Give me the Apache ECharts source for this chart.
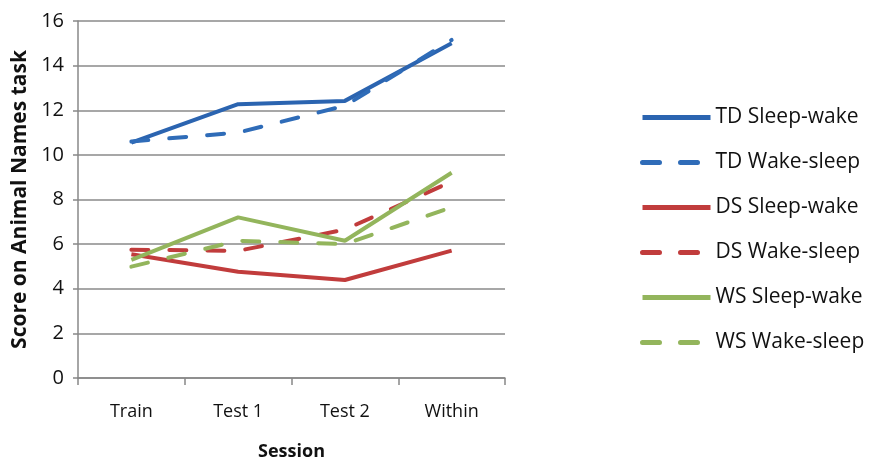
<!DOCTYPE html>
<html><head><meta charset="utf-8">
<script src="https://cdn.jsdelivr.net/npm/echarts@6/dist/echarts.min.js"></script>
<style>html,body{margin:0;padding:0;background:#fff}#c{width:874px;height:462px}</style>
</head><body><div id="c"></div>
<script>
const categories = ['Train', 'Test 1', 'Test 2', 'Within'];
const tdSleepWake = [10.55, 12.27, 12.42, 15.0];
const tdWakeSleep = [10.6, 11.0, 12.2, 15.15];
const dsSleepWake = [5.55, 4.76, 4.39, 5.71];
const dsWakeSleep = [5.75, 5.7, 6.65, 8.8];
const wsSleepWake = [5.29, 7.2, 6.15, 9.2];
const wsWakeSleep = [4.99, 6.15, 6.0, 7.65];
const seriesNames = ['TD Sleep-wake','TD Wake-sleep','DS Sleep-wake','DS Wake-sleep','WS Sleep-wake','WS Wake-sleep'];
const seriesData = [tdSleepWake, tdWakeSleep, dsSleepWake, dsWakeSleep, wsSleepWake, wsWakeSleep];
const colors = ['#2b64b0','#2f6cb8','#c13c3c','#c13c3c','#93b55c','#93b55c'];
const dashed = [false,true,false,true,false,true];
const FONT = 'Open Sans';
const chart = echarts.init(document.getElementById('c'), null, {renderer:'canvas'});
chart.setOption({
  animation:false,
  textStyle:{fontFamily:FONT},
  grid:{left:78, right:369, top:21, bottom:84, containLabel:false, outerBoundsMode:'none'},
  legend:{
    orient:'vertical', left:635, top:102, itemWidth:68, itemHeight:14, itemGap:24,
    itemStyle:{opacity:0},
    lineStyle:{width:5},
    textStyle:{fontSize:21, color:'#111', fontFamily:FONT},
    data: seriesNames.map(n=>({name:n}))
  },
  xAxis:{
    type:'category', data:categories, boundaryGap:true,
    name:'Session', nameLocation:'middle', nameGap:65,
    nameTextStyle:{fontSize:18, fontWeight:'bold', color:'#111'},
    axisLine:{lineStyle:{color:'#888', width:1.5}},
    axisTick:{show:true, length:7, lineStyle:{color:'#888', width:1.5}},
    axisLabel:{fontSize:18, color:'#111', margin:25}
  },
  yAxis:{
    type:'value', min:0, max:16, interval:2,
    name:'Score on Animal Names task', nameLocation:'middle', nameGap:47,
    nameTextStyle:{fontSize:21, fontWeight:'bold', color:'#111'},
    axisLine:{show:true, lineStyle:{color:'#888', width:1.5}},
    axisTick:{show:true, length:5, lineStyle:{color:'#888', width:1.5}},
    axisLabel:{fontSize:20, color:'#111', margin:14},
    splitLine:{lineStyle:{color:'#8a8a8a', width:1.5}}
  },
  series: seriesNames.map((n,i)=>({
    name:n, type:'line', data:seriesData[i], symbol:'none', smooth:false,
    lineStyle:{color:colors[i], width:4, type: dashed[i] ? [17,21] : 'solid', cap: dashed[i] ? 'round':'butt'},
    itemStyle:{color:colors[i]}
  }))
});
</script></body></html>
